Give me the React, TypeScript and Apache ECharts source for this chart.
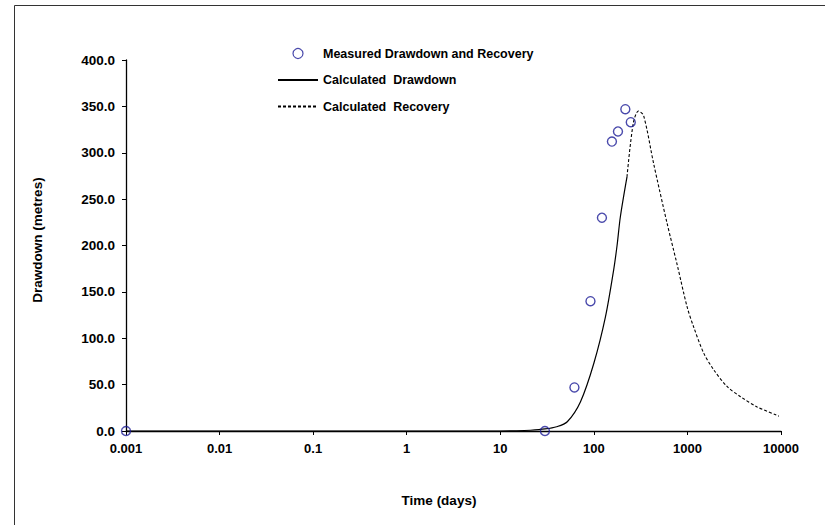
import React, { useEffect, useRef } from "react";
import * as echarts from "echarts";

const xTickLabels = ["0.001", "0.01", "0.1", "1", "10", "100", "1000", "10000"];

const measuredTime = [0.001, 30, 62, 92, 122, 156, 181, 217, 248];
const measuredDrawdown = [0, 0, 47, 140, 230, 312, 323, 347, 333];

const drawdownTime = [0.001, 1, 10, 15, 21, 30, 40, 52, 72, 100, 133, 163, 177, 192, 226];
const drawdownValue = [0, 0, 0, 0.2, 0.8, 2.2, 4.6, 10, 31.6, 73, 123, 174, 200, 231, 274];

const recoveryTime = [226, 264, 300, 340, 436, 606, 774, 991, 1167, 1493, 1910, 2652, 3690, 5560, 9500];
const recoveryValue = [274, 332, 345, 340, 288, 224, 180, 134, 112, 84, 66, 48, 37, 26, 16];

const FONT = "'Liberation Sans', Arial, sans-serif";
const BLUE = "#1c1c96";

export default function App() {
  const ref = useRef<HTMLDivElement>(null);
  useEffect(() => {
    if (!ref.current) return;
    const chart = echarts.init(ref.current, null, { renderer: "svg" });
    const zip = (xs: number[], ys: number[]) => xs.map((x, i) => [x, ys[i]]);
    chart.setOption({
      animation: false,
      backgroundColor: "#ffffff",
      grid: { left: 126, right: 44, top: 60, bottom: 94 },
      legend: {
        orient: "vertical",
        left: 277,
        top: 47,
        padding: 0,
        itemWidth: 40,
        itemHeight: 10,
        itemGap: 13.5,
        textStyle: { fontFamily: FONT, fontWeight: "bold", fontSize: 12.5, color: "#000" },
        data: [
          { name: "Measured Drawdown and Recovery", itemStyle: { borderWidth: 1.2 } },
          { name: "Calculated  Drawdown", itemStyle: { opacity: 0 } },
          { name: "Calculated  Recovery", itemStyle: { opacity: 0 } },
        ],
      },
      xAxis: {
        type: "log",
        logBase: 10,
        min: 0.001,
        max: 10000,
        splitLine: { show: false },
        minorTick: { show: false },
        axisLine: { lineStyle: { color: "#000", width: 1.3 } },
        axisTick: { show: true, length: 4, lineStyle: { color: "#000" } },
        axisLabel: {
          margin: 11,
          fontFamily: FONT,
          fontWeight: "bold",
          fontSize: 13,
          color: "#000",
          formatter: (v: number) => xTickLabels[Math.round(Math.log10(v)) + 3] ?? "",
        },
      },
      yAxis: {
        type: "value",
        min: 0,
        max: 400,
        interval: 50,
        splitLine: { show: false },
        axisLine: { show: true, lineStyle: { color: "#000", width: 1.3 } },
        axisTick: { show: true, length: 4, lineStyle: { color: "#000" } },
        axisLabel: {
          margin: 11,
          fontFamily: FONT,
          fontWeight: "bold",
          fontSize: 13.5,
          color: "#000",
          formatter: (v: number) => v.toFixed(1),
        },
      },
      graphic: [
        {
          type: "rect",
          shape: { x: 14.5, y: 5.5, width: 900, height: 600 },
          style: { fill: "none", stroke: "#333", lineWidth: 1 },
          silent: true,
          z: -1,
        },
        {
          type: "text",
          x: 439,
          y: 500,
          style: {
            text: "Time (days)",
            fontFamily: FONT,
            fontWeight: "bold",
            fontSize: 13.5,
            fill: "#000",
            align: "center",
            verticalAlign: "middle",
          },
        },
        {
          type: "text",
          x: 37,
          y: 240,
          rotation: Math.PI / 2,
          style: {
            text: "Drawdown (metres)",
            fontFamily: FONT,
            fontWeight: "bold",
            fontSize: 13.5,
            fill: "#000",
            align: "center",
            verticalAlign: "middle",
          },
        },
      ],
      series: [
        {
          name: "Measured Drawdown and Recovery",
          type: "scatter",
          symbol: "circle",
          symbolSize: 9,
          itemStyle: { color: "rgba(255,255,255,0)", borderColor: BLUE, borderWidth: 1.4 },
          data: zip(measuredTime, measuredDrawdown),
          z: 5,
        },
        {
          name: "Calculated  Drawdown",
          type: "line",
          symbol: "none",
          smooth: 0.3,
          lineStyle: { color: "#000", width: 1.2, type: "solid" },
          itemStyle: { color: "#000" },
          data: zip(drawdownTime, drawdownValue),
        },
        {
          name: "Calculated  Recovery",
          type: "line",
          symbol: "none",
          smooth: 0.3,
          lineStyle: { color: "#000", width: 1.1, type: [3, 2] },
          itemStyle: { color: "#000" },
          data: zip(recoveryTime, recoveryValue),
        },
      ],
    });
    return () => chart.dispose();
  }, []);
  return (
    <div
      ref={ref}
      style={{ position: "fixed", left: 0, top: 0, width: 825, height: 525, background: "#fff" }}
    />
  );
}
